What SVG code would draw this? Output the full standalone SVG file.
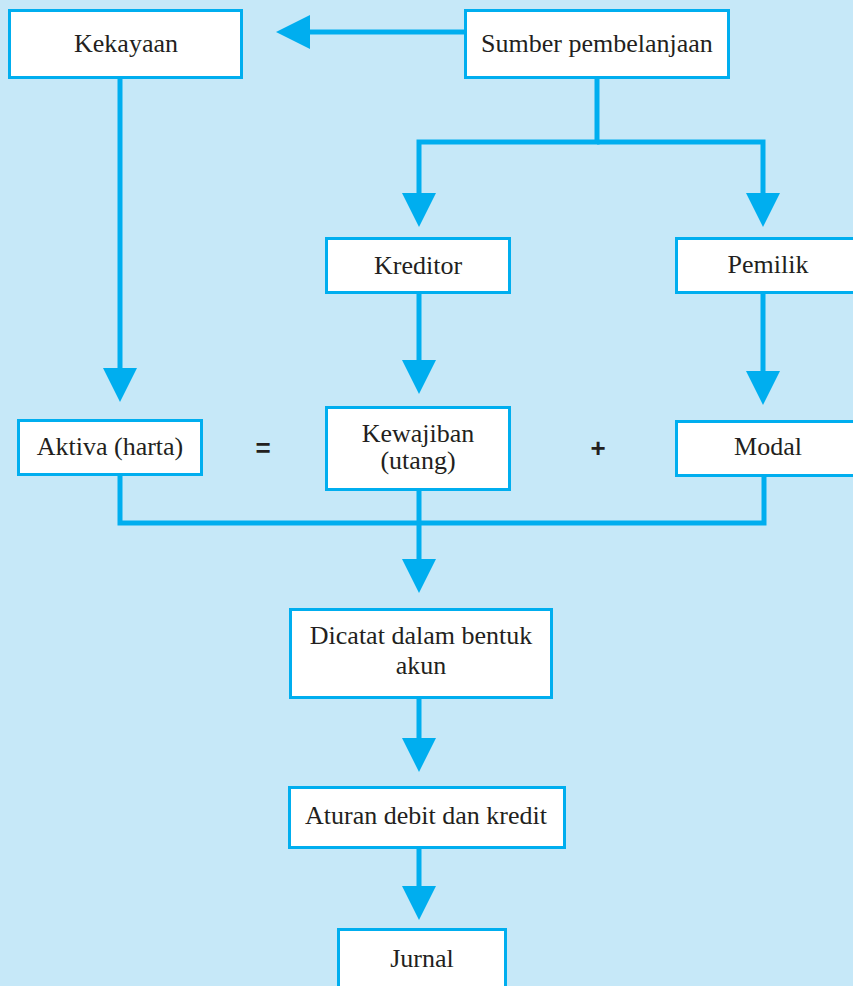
<svg xmlns="http://www.w3.org/2000/svg" width="853" height="986" viewBox="0 0 853 986">
<style>
.box{fill:#ffffff;stroke:#00aeef;stroke-width:3}
.lbl{font-family:"Liberation Serif","Times New Roman",serif;font-size:26px;fill:#231f20;text-anchor:middle}
.op{font-family:"Liberation Sans",Arial,sans-serif;font-size:26px;font-weight:bold;fill:#231f20;text-anchor:middle}
.con{fill:none;stroke:#00aeef;stroke-width:5;stroke-linejoin:miter;stroke-linecap:butt}
.arr{marker-end:url(#head)}
</style>
<defs>
<marker id="head" markerUnits="userSpaceOnUse" markerWidth="34" markerHeight="34" viewBox="0 0 34 34" refX="1" refY="17" orient="auto">
<path d="M0,0 L34,17 L0,34 Z" fill="#00aeef"/>
</marker>
</defs>
<rect x="0" y="0" width="853" height="986" fill="#c6e8f8"/>
<g id="connectors">
<path class="con arr" d="M464,32 H309"/>
<path class="con arr" d="M597,79 V142 H419 V194"/>
<path class="con arr" d="M597,142 H763 V194"/>
<path class="con arr" d="M120,79 V369"/>
<path class="con arr" d="M419,294 V361"/>
<path class="con arr" d="M763,294 V372"/>
<path class="con" d="M120,476 V523 H764 V477"/>
<path class="con arr" d="M419,491 V560"/>
<path class="con arr" d="M419,699 V739"/>
<path class="con arr" d="M419,849 V887"/>
</g>
<g id="kekayaan"><rect class="box" x="9.5" y="10.5" width="232" height="67"/><text class="lbl" x="126" y="52">Kekayaan</text></g>
<g id="sumber"><rect class="box" x="465.5" y="10.5" width="263" height="67"/><text class="lbl" x="597" y="52">Sumber pembelanjaan</text></g>
<g id="kreditor"><rect class="box" x="326.5" y="238.5" width="183" height="54"/><text class="lbl" x="418" y="274">Kreditor</text></g>
<g id="pemilik"><rect class="box" x="676.5" y="238.5" width="183" height="54"/><text class="lbl" x="768" y="273">Pemilik</text></g>
<g id="aktiva"><rect class="box" x="18.5" y="420.5" width="183" height="54"/><text class="lbl" x="110" y="455">Aktiva (harta)</text></g>
<g id="kewajiban"><rect class="box" x="326.5" y="407.5" width="183" height="82"/><text class="lbl" x="418" y="442">Kewajiban</text><text class="lbl" x="418" y="469">(utang)</text></g>
<g id="modal"><rect class="box" x="676.5" y="421.5" width="183" height="54"/><text class="lbl" x="768" y="455">Modal</text></g>
<g id="ops"><text class="op" x="263" y="457">=</text><text class="op" x="598" y="457">+</text></g>
<g id="dicatat"><rect class="box" x="290.5" y="609.5" width="261" height="88"/><text class="lbl" x="421" y="644">Dicatat dalam bentuk</text><text class="lbl" x="421" y="674">akun</text></g>
<g id="aturan"><rect class="box" x="289.5" y="787.5" width="275" height="60"/><text class="lbl" x="426" y="824">Aturan debit dan kredit</text></g>
<g id="jurnal"><rect class="box" x="338.5" y="929.5" width="167" height="70"/><text class="lbl" x="422" y="967">Jurnal</text></g>
</svg>
